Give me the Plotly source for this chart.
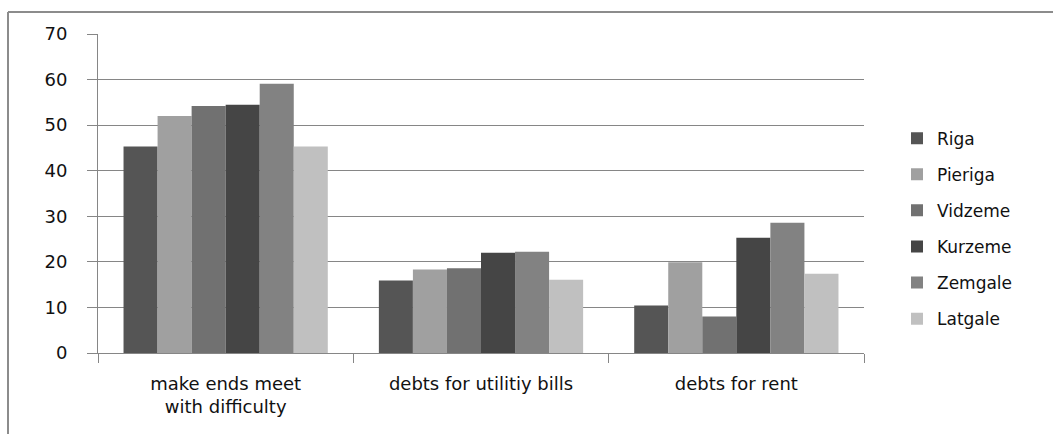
import plotly.graph_objects as go

categories = ["make ends meet<br>with difficulty", "debts for utilitiy bills", "debts for rent"]
regions = ["Riga", "Pieriga", "Vidzeme", "Kurzeme", "Zemgale", "Latgale"]
riga = [45.3, 15.9, 10.4]
pieriga = [52.0, 18.3, 19.9]
vidzeme = [54.2, 18.6, 8.0]
kurzeme = [54.5, 22.0, 25.3]
zemgale = [59.1, 22.2, 28.6]
latgale = [45.3, 16.1, 17.4]
series = [riga, pieriga, vidzeme, kurzeme, zemgale, latgale]
colors = ["#555555", "#a0a0a0", "#717171", "#454545", "#828282", "#c0c0c0"]
y_ticks = [0, 10, 20, 30, 40, 50, 60, 70]

W, H = 1053, 437
L, R, T, B = 98, 189, 34, 84
pw, ph = W - L - R, H - T - B

fig = go.Figure()
for name, vals, col in zip(regions, series, colors):
    fig.add_trace(go.Bar(x=categories, y=vals, name=name, marker=dict(color=col, line=dict(width=0)),
                         legendgroup=name))

def px_x(p):
    return (p - L) / pw

def px_y(p):
    return (H - B - p) / ph

fig.update_layout(
    width=W, height=H,
    margin=dict(l=L, r=R, t=T, b=B),
    paper_bgcolor="white", plot_bgcolor="white",
    barmode="group", bargap=0.2, bargroupgap=0,
    font=dict(family="DejaVu Sans", size=17, color="#111111"),
    showlegend=True,
    legend=dict(x=px_x(897), xanchor="left", y=0.39, yanchor="middle",
                font=dict(size=17), tracegroupgap=11, traceorder="grouped",
                bgcolor="rgba(0,0,0,0)"),
    xaxis=dict(type="category", showline=True, linecolor="#868686", linewidth=1,
               ticks="outside", tickson="boundaries", ticklen=9, tickcolor="#868686",
               showgrid=False, tickfont=dict(size=18), ticklabelstandoff=14, fixedrange=True),
    yaxis=dict(range=[0, 70], tickvals=y_ticks, showline=True, linecolor="#868686", linewidth=1,
               ticks="outside", ticklen=10, tickcolor="#868686",
               showgrid=True, gridcolor="#868686", gridwidth=1, zeroline=False,
               tickfont=dict(size=18), ticklabelstandoff=16),
    shapes=[
        dict(type="line", xref="paper", yref="paper", x0=px_x(8), x1=px_x(W + 5), y0=px_y(12), y1=px_y(12),
             line=dict(color="#8c8c8c", width=2)),
        dict(type="line", xref="paper", yref="paper", x0=px_x(8), x1=px_x(8), y0=px_y(12), y1=px_y(434),
             line=dict(color="#8c8c8c", width=2)),
    ],
)

fig.write_html("out.html")
